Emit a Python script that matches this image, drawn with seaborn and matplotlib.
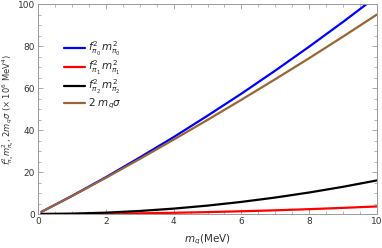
import numpy as np
import pandas as pd
import matplotlib.pyplot as plt
import seaborn as sns

mq = [0.1, 1, 2, 3, 4, 5, 6, 7, 8, 9, 10]
pi0 = [1.0, 8.6, 17.5, 26.9, 36.6, 46.8, 57.3, 68.3, 79.7, 91.5, 103.7]
pi1 = [0.0, 0.04, 0.14, 0.32, 0.58, 0.9, 1.3, 1.76, 2.3, 2.92, 3.6]
pi2 = [0.0, 0.16, 0.64, 1.44, 2.56, 4.0, 5.76, 7.84, 10.24, 12.96, 16.0]
sigma = [1.0, 8.5, 17.2, 26.2, 35.4, 44.8, 54.4, 64.2, 74.2, 84.5, 95.0]

labels = [r"$f^2_{\pi_0}\,m^2_{\pi_0}$", r"$f^2_{\pi_1}\,m^2_{\pi_1}$",
          r"$f^2_{\pi_2}\,m^2_{\pi_2}$", r"$2\ m_q\sigma$"]
colors = ["#0000ff", "#ff0000", "#000000", "#996633"]

sns.set_style("ticks")
plt.rcParams["font.family"] = ["DejaVu Sans"]
plt.rcParams["mathtext.fontset"] = "dejavusans"

fig = plt.figure(figsize=(3.82, 2.48), dpi=100)
ax = fig.add_axes([38 / 382, 1 - 214 / 248, 339 / 382, 210 / 248])

for ys, lab, c in zip([pi0, pi1, pi2, sigma], labels, colors):
    sns.lineplot(x=mq, y=ys, ax=ax, color=c, lw=1.6, label=lab)

ax.set_xlim(0, 10)
ax.set_ylim(0, 100)
ax.set_xticks(np.arange(0, 11, 2))
ax.set_yticks(np.arange(0, 101, 20))
ax.set_xticks(np.arange(0, 10.01, 0.5), minor=True)
ax.set_yticks(np.arange(0, 100.01, 5), minor=True)
ax.tick_params(direction="in", which="both", colors="#999999", labelcolor="#333333",
               labelsize=6.5, top=True, right=True, pad=2)
ax.tick_params(which="major", length=3.5, width=0.6)
ax.tick_params(which="minor", length=2, width=0.5)
for s in ax.spines.values():
    s.set_color("#999999")
    s.set_linewidth(0.7)

ax.set_xlabel(r"$m_q$(MeV)", fontsize=7.5, color="#333333", labelpad=5)
ax.set_ylabel(r"$f^2_{\pi_s}m^2_{\pi_s}$, $2m_q\sigma$ ($\times$ 10$^6$ MeV$^4$)",
              fontsize=6, color="#333333")
ax.yaxis.set_label_coords(-0.066, 0.5)

ax.legend(loc="upper left", bbox_to_anchor=(0.065, 0.85), frameon=False, fontsize=7.5,
          handlelength=2.0, handletextpad=0.3, labelspacing=0.1, borderaxespad=0)

fig.savefig("out.png", dpi=100)
